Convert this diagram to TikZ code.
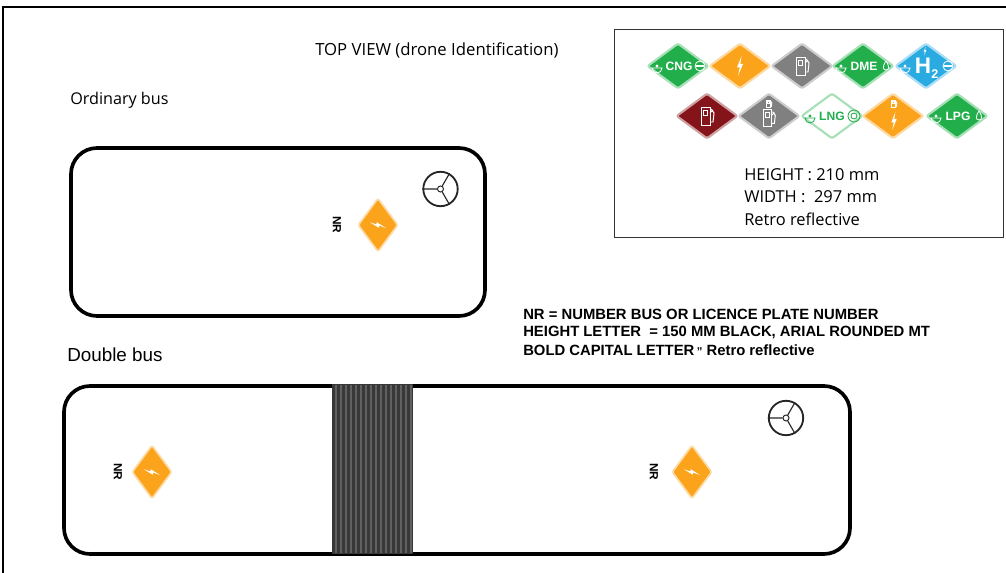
\documentclass[tikz,border=0pt]{standalone}
\usepackage{fontspec}
\setmainfont{Open Sans}
\newfontfamily\arialfont{Liberation Sans}
\usetikzlibrary{shapes.geometric,calc}
\definecolor{signgreen}{HTML}{22AE4B}
\definecolor{signorange}{HTML}{FBA31A}
\definecolor{signgrey}{HTML}{808080}
\definecolor{signblue}{HTML}{29ABE2}
\definecolor{signred}{HTML}{85141A}
\definecolor{bellowdark}{HTML}{383838}
\definecolor{bellowlight}{HTML}{606060}

\tikzset{
  sign/.style={diamond,draw=#1!40,fill=#1,line width=1.5pt,rounded corners=1.5pt,
               inner sep=0pt,minimum width=15.4mm,minimum height=11.4mm},
  bussign/.style={diamond,draw=signorange!40,fill=signorange,line width=1.2pt,rounded corners=1.5pt,
               inner sep=0pt,aspect=0.74,minimum width=10mm,minimum height=13.4mm},
  signlbl/.style={font=\arialfont\bfseries\fontsize{8.6}{8}\selectfont,text=white,inner sep=0pt},
  nrlbl/.style={font=\arialfont\bfseries\fontsize{8.4}{8}\selectfont,rotate=-90,inner sep=0pt},
  legendlbl/.style={font=\fontsize{11.7}{12}\selectfont,anchor=west,inner sep=0pt},
  notelbl/.style={font=\arialfont\bfseries\fontsize{10.55}{9}\selectfont,anchor=west,inner sep=0pt},
  busbody/.style={draw=black,line width=2.6pt,rounded corners=6.5mm,fill=white},
  wheel/.style={circle,draw=black!85,line width=1.3pt,minimum size=8.6mm,inner sep=0pt},
  pics/bolt/.style={code={
    \fill[#1] (1.5,-10) -- (-3,1.5) -- (-.3,1.5) -- (-2,10) -- (3,-2) -- (.3,-2) -- cycle;}},
  pics/pump/.style={code={
    \draw[white,line width=.7pt] (-6,-9) rectangle (3,9);
    \draw[white,line width=.7pt] (-3.5,-6) rectangle (.5,-1);
    \draw[white,line width=.7pt] (3,-3) -- (6,-6) (3,6) -- (6,6) -- (7,-3) -- (4,-7);}},
  pics/eye/.style={code={
    \draw[#1,line width=.6pt] (-5,2) arc[start angle=180,end angle=0,radius=5] -- cycle;
    \fill[#1] (0,0) circle[radius=1.6];}},
  pics/dropmark/.style={code={
    \draw[#1,line width=.6pt] (0,-5) .. controls (-4,1) and (-3,4) .. (0,4)
      .. controls (3,4) and (4,1) .. (0,-5);}},
  pics/barmark/.style={code={
    \draw[#1,line width=.6pt] (0,0) circle[radius=5];
    \draw[#1,line width=.8pt] (-4,0) -- (4,0);}},
  pics/ringmark/.style={code={
    \draw[#1,line width=.6pt] (0,0) circle[radius=6] (0,0) circle[radius=3];}}
}

\begin{document}
\begin{tikzpicture}[x=0.25mm,y=-0.25mm]
\useasboundingbox (0,0) rectangle (1006,573);

% page frame
\coordinate (frameb) at (3,573);
\coordinate (framec) at (3,7);
\coordinate (framee) at (1006,7);
\draw[black,line width=1.2pt] (frameb) -- (framec) -- (framee);

\node[font=\fontsize{11.9}{12}\selectfont,anchor=west,inner sep=0pt] (title) at (315,50) {TOP VIEW (drone Identification)};
\node[font=\fontsize{11.5}{12}\selectfont,anchor=west,inner sep=0pt] (ordlbl) at (70,100) {Ordinary bus};
\node[font=\arialfont\fontsize{13.4}{12}\selectfont,anchor=west,inner sep=0pt] (dbllbl) at (67,355) {Double bus};

% legend
\draw[black!80,line width=.6pt] (614,29) rectangle (1003,237);

\node[sign=signgreen] (cng) at (678,66) {};
\node[sign=signorange] (ele) at (740,66) {};
\node[sign=signgrey] (pet) at (802,66) {};
\node[sign=signgreen] (dme) at (863,66) {};
\node[sign=signblue] (hyd) at (926,66) {};
\node[sign=signred] (die) at (707,116) {};
\node[sign=signgrey] (hyb) at (769,116) {};
\node[sign=signgreen,fill=white] (lng) at (832,116) {};
\node[sign=signorange] (plg) at (893,116) {};
\node[sign=signgreen] (lpg) at (957,116) {};

\node[signlbl] (cngt) at (679,66) {CNG};
\node[signlbl] (dmet) at (864,66) {DME};
\node[signlbl,text=signgreen] (lngt) at (832,116) {LNG};
\node[signlbl] (lpgt) at (958,116) {LPG};
\node[signlbl,font=\arialfont\bfseries\fontsize{16}{16}\selectfont] (hydt) at (923,66) {H};
\node[signlbl,font=\arialfont\bfseries\fontsize{9}{9}\selectfont] (hydn) at (935,74) {2};

\path (cng) ++(-21,0) pic {eye=white};
\path (cng) ++(22,0) pic {barmark=white};
\path (dme) ++(-22,0) pic {eye=white};
\path (dme) ++(23,0) pic {dropmark=white};
\path (hyd) ++(-21,0) pic {eye=white};
\path (hyd) ++(22,0) pic {barmark=white};
\path (hyd) ++(-1,-15) pic[scale=.45] {bolt=white};
\path (lng) ++(-22,0) pic {eye=signgreen};
\path (lng) ++(22,0) pic {ringmark=signgreen};
\path (lpg) ++(-21,0) pic {eye=white};
\path (lpg) ++(22,0) pic {dropmark=white};
\path (ele) pic {bolt=white};
\path (pet) pic {pump};
\path (die) pic {pump};
\path (hyb) ++(0,2) pic[scale=.9] {pump};
\path (hyb) ++(0,-12) pic[scale=.4] {pump};
\path (plg) ++(1,5) pic[scale=.9] {bolt=white};
\path (plg) ++(1,-12) pic[scale=.4] {pump};

\node[legendlbl] (hgt) at (744,175) {HEIGHT : 210 mm};
\node[legendlbl] (wdt) at (744,197) {WIDTH :\ \ 297 mm};
\node[legendlbl] (ret) at (744,219) {Retro reflective};

% note
\node[notelbl] (note1) at (523,314) {NR = NUMBER BUS OR LICENCE PLATE NUMBER};
\node[notelbl] (note2) at (523,332) {HEIGHT LETTER\ \ = 150 MM BLACK, ARIAL ROUNDED MT};
\node[notelbl] (note3) at (523,350) {BOLD CAPITAL LETTER\,{\fontsize{8}{8}\selectfont\textquotedblright} Retro reflective};

% ordinary bus
\draw[busbody] (71,148) rectangle (485,316);
\node[bussign] (sign1) at (378,225) {};
\path (sign1) pic[scale=.85,rotate=80] {bolt=white};
\node[nrlbl] (nr1) at (337,225) {NR};
\node[wheel] (wheel1) at (440.5,189) {};
\node[circle,draw=black!85,line width=.7pt,minimum size=1.5mm,inner sep=0pt] (hub1) at (wheel1) {};
\draw[black!85,line width=.8pt] (hub1) -- (wheel1.west) (hub1) -- (wheel1.60) (hub1) -- (wheel1.-60);

% double bus
\draw[busbody] (64,386) rectangle (850,554);
\fill[bellowdark] (332,384) rectangle (413,554);
\foreach \x in {336,341,...,411}
  \draw[bellowlight,line width=.8pt] (\x,385) -- (\x,553);
\node[bussign] (sign2) at (152,472) {};
\path (sign2) pic[scale=.85,rotate=80] {bolt=white};
\node[nrlbl] (nr2) at (118,472) {NR};
\node[bussign] (sign3) at (692,472) {};
\path (sign3) pic[scale=.85,rotate=80] {bolt=white};
\node[nrlbl] (nr3) at (654,472) {NR};
\node[wheel] (wheel2) at (786,418) {};
\node[circle,draw=black!85,line width=.7pt,minimum size=1.5mm,inner sep=0pt] (hub2) at (wheel2) {};
\draw[black!85,line width=.8pt] (hub2) -- (wheel2.west) (hub2) -- (wheel2.60) (hub2) -- (wheel2.-60);
\end{tikzpicture}
\end{document}
